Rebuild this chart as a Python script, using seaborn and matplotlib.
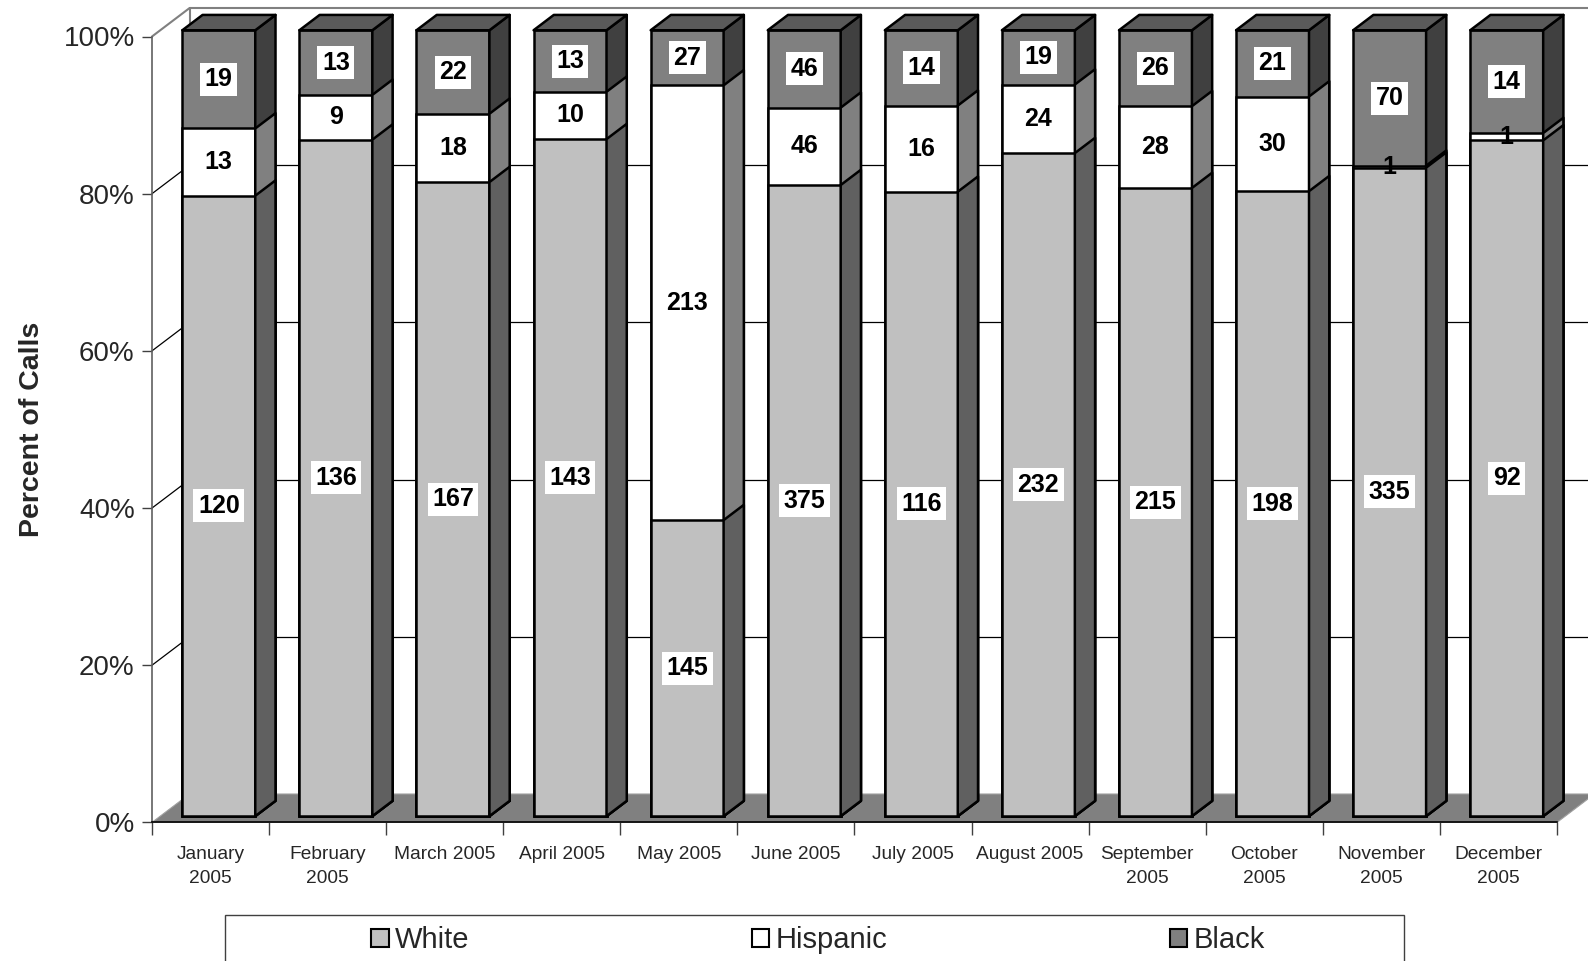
import numpy as np
import matplotlib
matplotlib.use("Agg")
import matplotlib.pyplot as plt
import seaborn as sns
from matplotlib.patches import Polygon, Rectangle, Patch

# ---------------- data ----------------
months = ["January\n2005", "February\n2005", "March 2005", "April 2005", "May 2005",
          "June 2005", "July 2005", "August 2005", "September\n2005", "October\n2005",
          "November\n2005", "December\n2005"]
white = [120, 136, 167, 143, 145, 375, 116, 232, 215, 198, 335, 92]
hispanic = [13, 9, 18, 10, 213, 46, 16, 24, 28, 30, 1, 1]
black = [19, 13, 22, 13, 27, 46, 14, 19, 26, 21, 70, 14]
series_names = ["White", "Hispanic", "Black"]
y_ticks = [0, 20, 40, 60, 80, 100]
y_tick_labels = ["0%", "20%", "40%", "60%", "80%", "100%"]

# ---------------- style ----------------
front_colors = ["#C0C0C0", "#FFFFFF", "#808080"]
side_colors = ["#606060", "#808080", "#404040"]
top_color = "#5A5A5A"

sns.set_style("white")
plt.rcParams['font.family'] = ['Liberation Sans', 'DejaVu Sans']

FW, FH = 1588, 961
fig = plt.figure(figsize=(FW / 100, FH / 100), dpi=100)
L, B = 152 / FW, 138.6 / FH
W, H = 1405 / FW, 785.9 / FH
ax = fig.add_axes([L, B, W, H])

counts = np.array([white, hispanic, black], dtype=float)
pct = counts / counts.sum(axis=0) * 100
cum = np.cumsum(pct, axis=0)

n = len(months)
XMIN, XMAX = -0.5, n - 0.5
# depth vector in data units
DX = 37.5 / (W * FW / n)
DY = 28.4 / (H * FH / 100)
D0, D1 = 0.22, 0.76
BAR_W = 0.623
LW = 1.8

# ---------------- walls & floor ----------------
wall_c = "#808080"
for g in y_ticks[1:-1]:
    ax.plot([XMIN + DX, XMAX + DX], [g + DY, g + DY], color="black", lw=0.9,
            clip_on=False, zorder=1)
    ax.plot([XMIN, XMIN + DX], [g, g + DY], color="black", lw=0.9,
            clip_on=False, zorder=1)
ax.plot([XMIN + DX, XMAX + DX], [100 + DY, 100 + DY], color=wall_c, lw=1.5,
        clip_on=False, zorder=1)
ax.plot([XMIN, XMIN + DX], [100, 100 + DY], color=wall_c, lw=1.5,
        clip_on=False, zorder=1)
ax.plot([XMIN + DX, XMIN + DX], [DY, 100 + DY], color=wall_c, lw=1.5,
        clip_on=False, zorder=1)
floor = Polygon([(XMIN, 0), (XMAX, 0), (XMAX + DX, DY), (XMIN + DX, DY)],
                closed=True, fc="#808080", ec="#A0A0A0", lw=0.8,
                clip_on=False, zorder=1.5)
ax.add_patch(floor)

# ---------------- bars ----------------
dxs, dys = (D1 - D0) * DX, (D1 - D0) * DY
for k in [2, 1, 0]:
    n_before = len(ax.patches)
    sns.barplot(x=months, y=cum[k], color=front_colors[k], saturation=1,
                width=BAR_W, edgecolor="black", linewidth=LW, errorbar=None,
                ax=ax, zorder=3)
    new = list(ax.patches)[n_before:]
    for p in new:
        p.set_clip_on(False)
        p.set_x(p.get_x() + D0 * DX)
        p.set_y(p.get_y() + D0 * DY)
        x0 = p.get_x()
        x1 = x0 + p.get_width()
        y0 = p.get_y()
        y1 = y0 + p.get_height()
        ax.add_patch(Polygon([(x1, y0), (x1 + dxs, y0 + dys), (x1 + dxs, y1 + dys), (x1, y1)],
                             closed=True, fc=side_colors[k], ec="black", lw=LW,
                             joinstyle="round", zorder=3, clip_on=False))
        if k == 2:
            ax.add_patch(Polygon([(x0, y1), (x1, y1), (x1 + dxs, y1 + dys), (x0 + dxs, y1 + dys)],
                                 closed=True, fc=top_color, ec="black", lw=LW,
                                 joinstyle="round", zorder=3, clip_on=False))

# ---------------- value labels ----------------
for k in range(3):
    for i in range(n):
        yc = D0 * DY + cum[k][i] - pct[k][i] / 2
        xc = i + D0 * DX
        kw = {}
        if pct[k][i] >= 2:
            kw["bbox"] = dict(boxstyle="square,pad=0.18", fc="white", ec="none")
        ax.text(xc, yc, f"{int(counts[k][i])}", ha="center", va="center",
                fontsize=18, fontweight="bold", color="black", zorder=5,
                clip_on=False, **kw)

# ---------------- axes ----------------
ax.set_xlim(XMIN, XMAX)
ax.set_ylim(0, 100)
for s in ["top", "right"]:
    ax.spines[s].set_visible(False)
ax.spines["left"].set_color("#606060")
ax.spines["left"].set_linewidth(1.2)
ax.spines["bottom"].set_color("black")
ax.spines["bottom"].set_linewidth(1.2)

ax.set_xticks(np.arange(XMIN, XMAX + 0.01, 1))
ax.set_xticklabels([])
ax.set_xticks(np.arange(n), minor=True)
ax.set_xticklabels(months, minor=True, fontsize=13.8, linespacing=1.5)
ax.tick_params(axis="x", which="major", length=9.5, width=1, color="#404040",
               direction="out", bottom=True)
ax.tick_params(axis="x", which="minor", length=0, pad=17, bottom=True)
ax.set_yticks(y_ticks)
ax.set_yticklabels(y_tick_labels, fontsize=20)
ax.tick_params(axis="y", length=7.5, width=1, color="#404040", direction="out",
               pad=5, left=True)
ax.set_xlabel("")
ax.set_ylabel("Percent of Calls", fontsize=20.5, fontweight="bold")
ax.yaxis.set_label_coords(-0.0765, 0.5)

# ---------------- legend ----------------
handles = [Patch(fc=c, ec="black", lw=1.5, label=nm)
           for c, nm in zip(front_colors, series_names)]
fig.legend(handles=handles, loc="center", bbox_to_anchor=(0.515, 0.0215),
           ncol=3, frameon=False, fontsize=21, handlelength=0.6,
           handleheight=0.6, handletextpad=0.2, columnspacing=9.7)
fig.add_artist(Rectangle((224.8 / FW, -0.05), 1178.9 / FW, 46.5 / FH + 0.05,
                         transform=fig.transFigure, fill=False, ec="#404040",
                         lw=1, clip_on=False))

fig.savefig("out.png", dpi=100)
